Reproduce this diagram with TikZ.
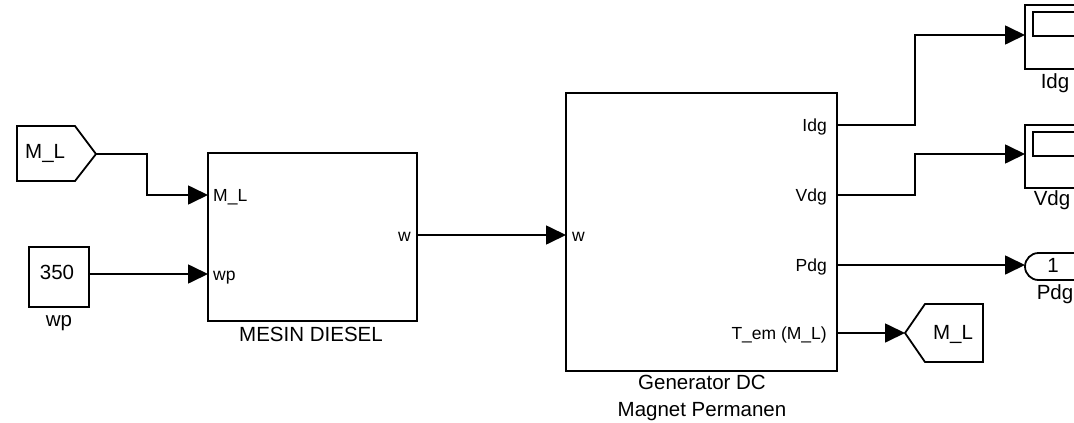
\documentclass[tikz,border=0pt]{standalone}
\usepackage{fontspec}
\setmainfont{Liberation Sans}
\usetikzlibrary{positioning,arrows.meta,calc}

\begin{document}
\begin{tikzpicture}[x=1pt,y=-1pt,
    line/.style={line width=1.8pt},
    sig/.style={line width=1.7pt,-{Triangle[length=20pt,width=19pt]}},
    blk/.style={draw,line width=1.8pt,inner sep=0pt},
    txt/.style={font=\fontsize{20.5}{24}\selectfont,inner sep=0pt},
    pin/.style={font=\fontsize{17.5}{20}\selectfont,inner sep=0pt},
    pinl/.style={pin,anchor=base west,xshift=5pt,yshift=-6.5pt},
    pinr/.style={pin,anchor=base east,xshift=-10pt,yshift=-6.5pt}
]
\useasboundingbox (0,0) rectangle (1074,423);
\clip (0,0) rectangle (1074,423);

% sources
\draw[line] (17,126) -- (75,126) -- (96,154) -- (75,181) -- (17,181) -- cycle;
\node[txt,anchor=base west] (fromML) at (25,158) {M\_L};
\coordinate (fromOut) at (96,154);

\node[blk,minimum width=60pt,minimum height=60pt] (wpc) at (59,277) {};
\node[txt,anchor=base] (wpval) at (57,279) {350};
\node[txt,anchor=base] (wpname) at (59,326) {wp};

% MESIN DIESEL
\node[blk,minimum width=209pt,minimum height=168pt] (diesel) at (312.5,237) {};
\node[txt,anchor=base] (dieselname) at (311,341) {MESIN DIESEL};
\coordinate (dML) at (208,195);
\coordinate (dwp) at (208,274);
\coordinate (dw) at (417,235);
\node[pinl] (dMLt) at (dML) {M\_L};
\node[pinl] (dwpt) at (dwp) {wp};
\node[pinr,xshift=4pt] (dwt) at (dw) {w};

% Generator DC
\node[blk,minimum width=271pt,minimum height=278pt] (gen) at (701.5,232) {};
\node[txt,anchor=base] (genname1) at (702,389) {Generator DC};
\node[txt,anchor=base] (genname2) at (702,416) {Magnet Permanen};
\coordinate (gw) at (566,235);
\coordinate (gI) at (837,125);
\coordinate (gV) at (837,195);
\coordinate (gP) at (837,265);
\coordinate (gT) at (837,333);
\node[pinl,xshift=1pt] (gwt) at (gw) {w};
\node[pinr] (gIt) at (gI) {Idg};
\node[pinr] (gVt) at (gV) {Vdg};
\node[pinr] (gPt) at (gP) {Pdg};
\node[pinr] (gTt) at (gT) {T\_em (M\_L)};

% sinks
\node[blk,minimum width=60pt,minimum height=64pt] (scI) at (1055,37) {};
\draw[line] ($(scI.north west)+(9,8)$) rectangle ($(scI.north east)+(-8,32)$);
\node[txt,anchor=base] (scIname) at (1055,88) {Idg};
\coordinate (scIin) at (1025,35);

\node[blk,minimum width=60pt,minimum height=63pt] (scV) at (1055,156.5) {};
\draw[line] ($(scV.north west)+(9,8)$) rectangle ($(scV.north east)+(-8,32)$);
\node[txt,anchor=base] (scVname) at (1052,205) {Vdg};
\coordinate (scVin) at (1025,154);

\node[blk,rounded corners=13.5pt,minimum width=75pt,minimum height=27pt] (outP) at (1062.5,266.5) {};
\node[txt,anchor=base] (outPnum) at (1053,272) {1};
\node[txt,anchor=base] (outPname) at (1055,299) {Pdg};
\coordinate (outPin) at (1025,265);

\draw[line] (905,333) -- (925,304) -- (983,304) -- (983,362) -- (925,362) -- cycle;
\node[txt,anchor=base] (gotoML) at (953,339) {M\_L};
\coordinate (gotoIn) at (905,333);

% signals
\draw[sig] (fromOut) -- ++(51,0) |- (dML);
\draw[sig] (wpc.east |- dwp) -- (dwp);
\draw[sig] (dw) -- (gw);
\draw[sig] (gI) -- ++(78,0) |- (scIin);
\draw[sig] (gV) -- ++(78,0) |- (scVin);
\draw[sig] (gP) -- (outPin);
\draw[sig] (gT) -- (gotoIn);

\end{tikzpicture}
\end{document}
